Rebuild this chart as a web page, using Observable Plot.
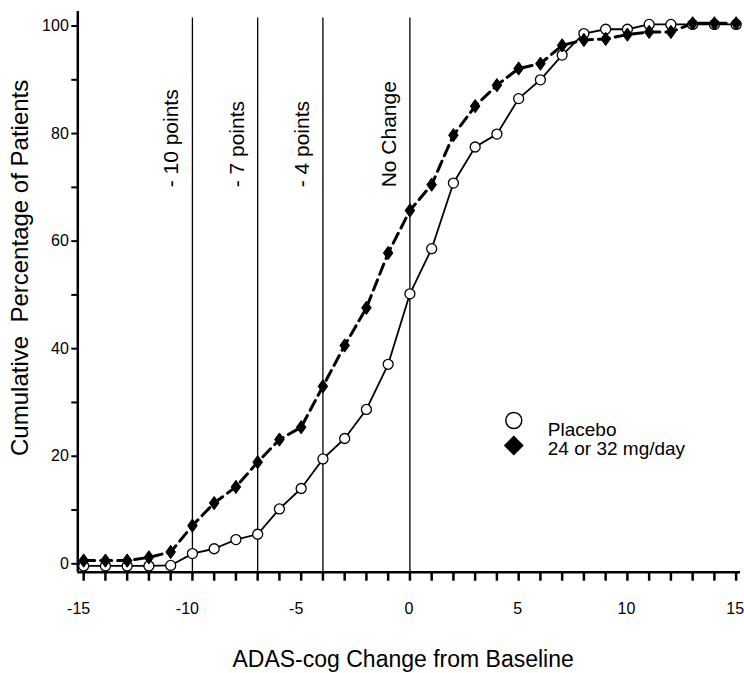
<!DOCTYPE html>
<html><head><meta charset="utf-8">
<script src="https://cdn.jsdelivr.net/npm/d3@7"></script>
<script src="https://cdn.jsdelivr.net/npm/@observablehq/plot@0.6"></script>
<style>
body{margin:0;background:#fff;}
#chart svg{font-family:"Liberation Sans",Arial,sans-serif;}
</style></head><body><div id="chart"></div>
<script>
// ---- data ----
const changes = [-15,-14,-13,-12,-11,-10,-9,-8,-7,-6,-5,-4,-3,-2,-1,0,1,2,3,4,5,6,7,8,9,10,11,12,13,14,15];
const placebo = [-0.4,-0.4,-0.4,-0.4,-0.3,1.9,2.8,4.5,5.5,10.2,14.0,19.5,23.3,28.7,37.1,50.2,58.6,70.8,77.5,79.9,86.5,90.0,94.6,98.6,99.4,99.4,100.3,100.3,100.3,100.3,100.3];
const drug    = [0.6,0.6,0.6,1.2,2.2,7.1,11.3,14.3,18.9,23.1,25.4,33.0,40.6,47.6,57.8,65.7,70.5,79.7,85.1,89.0,92.1,93.0,96.4,97.4,97.6,98.4,98.9,98.9,100.5,100.5,100.5];
const seriesNames = ["Placebo", "24 or 32 mg/day"];
const refLines = [-10, -7, -4, 0];
const refLabels = ["- 10 points", "- 7 points", "- 4 points", "No Change"];
const xTicks = d3.range(-15, 16);
const xTickLabels = [-15, -10, -5, 0, 5, 10, 15];
const yTicks = d3.range(0, 101, 10);
const yTickLabels = [0, 20, 40, 60, 80, 100];
const xTitle = "ADAS-cog Change from Baseline";
const yTitle = "Cumulative\u00a0 Percentage of Patients";
const xDomain = [-15.27, 15.2];
const yDomain = [-1.56, 102.7];
const refTop = 101.5;
const refLabelY = 70;

const placeboRows = changes.map((c, i) => ({change: c, pct: placebo[i], group: seriesNames[0]}));
const drugRows = changes.map((c, i) => ({change: c, pct: drug[i], group: seriesNames[1]}));

const rhombus = {
  draw(ctx, size) {
    const k = 0.72;
    const h = Math.sqrt(2 * size / k) / 2;
    const w = h * k;
    ctx.moveTo(0, -h); ctx.lineTo(w, 0); ctx.lineTo(0, h); ctx.lineTo(-w, 0); ctx.closePath();
  }
};

const chart = Plot.plot({
  width: 744,
  height: 673,
  marginLeft: 77.3,
  marginRight: 4,
  marginTop: 11,
  marginBottom: 101.3,
  x: {domain: xDomain},
  y: {domain: yDomain},
  style: {fontFamily: "'Liberation Sans', Arial, sans-serif", color: "#000", background: "#fff"},
  marks: [
    Plot.axisY({ticks: yTicks, tickSize: 6, tickPadding: 3, strokeWidth: 2,
      tickFormat: d => yTickLabels.includes(d) ? String(d) : "", fontSize: 16, label: null}),
    Plot.axisX({ticks: xTicks, tickSize: 9, strokeWidth: 2.5, tickFormat: () => "", label: null}),
    Plot.axisX({ticks: xTickLabels.filter(d => d < 0), tickSize: 0, tickPadding: 30, dx: -5,
      tickFormat: d => String(d), fontSize: 16, label: null}),
    Plot.axisX({ticks: xTickLabels.filter(d => d >= 0), tickSize: 0, tickPadding: 30, dx: -1,
      tickFormat: d => String(d), fontSize: 16, label: null}),
    Plot.ruleX([xDomain[0]], {y1: yDomain[0], y2: yDomain[1], stroke: "#000", strokeWidth: 2.5}),
    Plot.ruleY([yDomain[0]], {x1: xDomain[0], x2: xDomain[1], stroke: "#000", strokeWidth: 2.5}),
    Plot.ruleX(refLines, {y1: yDomain[0], y2: refTop, stroke: "#000", strokeWidth: 1.3}),
    Plot.text(refLines, {x: d => d, y: refLabelY, text: (d, i) => refLabels[i], rotate: -90,
      textAnchor: "start", lineAnchor: "bottom", dx: -14, fontSize: 21, fill: "#000"}),
    Plot.line(placeboRows, {x: "change", y: "pct", stroke: "#000", strokeWidth: 1.8}),
    Plot.line(drugRows, {x: "change", y: "pct", stroke: "#000", strokeWidth: 3, strokeDasharray: "11,6"}),
    Plot.dot(placeboRows, {x: "change", y: "pct", r: 5, fill: "#fff", stroke: "#000", strokeWidth: 1.3}),
    Plot.dot(drugRows, {x: "change", y: "pct", r: 4.5, symbol: rhombus, fill: "#000", stroke: "#000", strokeWidth: 1}),
    // legend
    Plot.dot([seriesNames[0]], {frameAnchor: "top-left", dx: 436, dy: 409, r: 8, fill: "#fff", stroke: "#000", strokeWidth: 1.5}),
    Plot.dot([seriesNames[1]], {frameAnchor: "top-left", dx: 436, dy: 434, r: 8, symbol: "diamond2", fill: "#000", stroke: "#000"}),
    Plot.text([seriesNames[0]], {frameAnchor: "top-left", text: d => d, dx: 470, dy: 418, textAnchor: "start", lineAnchor: "middle", fontSize: 19, fill: "#000"}),
    Plot.text([seriesNames[1]], {frameAnchor: "top-left", text: d => d, dx: 470, dy: 437, textAnchor: "start", lineAnchor: "middle", fontSize: 19, fill: "#000"}),
    // titles
    Plot.text([xTitle], {frameAnchor: "bottom", text: d => d, dx: -6, dy: 87, textAnchor: "middle", lineAnchor: "middle", fontSize: 23, fill: "#000"}),
    Plot.text([yTitle], {frameAnchor: "left", text: d => d, rotate: -90, dx: -57, dy: -24, textAnchor: "middle", lineAnchor: "middle", fontSize: 24, fill: "#000"})
  ]
});
document.getElementById("chart").appendChild(chart);
</script>
</body></html>
